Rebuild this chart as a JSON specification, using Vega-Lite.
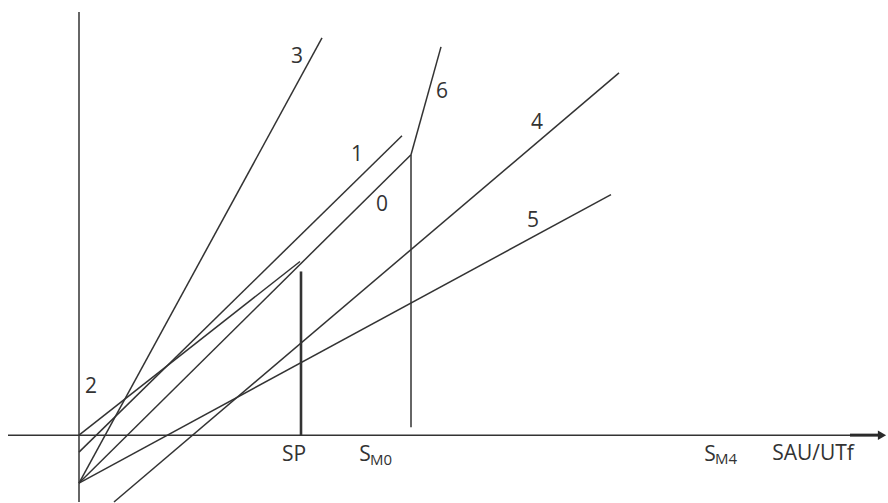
{
  "$schema": "https://vega.github.io/schema/vega-lite/v6.json",
  "width": 888,
  "height": 503,
  "autosize": {"type": "fit", "contains": "padding"},
  "padding": 0,
  "background": "white",
  "config": {"view": {"stroke": null}},
  "datasets": {
    "axes": [
      {"name": "x-axis", "x": -71, "y": 0, "x2": 775, "y2": 0},
      {"name": "y-axis", "x": 0, "y": 424, "x2": 0, "y2": -67}
    ],
    "arrow": [
      {"name": "arrow shaft", "x": 771, "y": 0, "x2": 802, "y2": 0}
    ],
    "arrowhead": [
      {"name": "arrow head", "x": 803, "y": 0}
    ],
    "curves": [
      {"name": "0", "x": 0, "y": -48, "x2": 332, "y2": 281},
      {"name": "6", "x": 332, "y": 281, "x2": 362, "y2": 389},
      {"name": "S_M0 drop", "x": 332, "y": 8, "x2": 332, "y2": 281},
      {"name": "1", "x": 0, "y": -17, "x2": 323, "y2": 300},
      {"name": "2", "x": 0, "y": 0, "x2": 221, "y2": 174},
      {"name": "3", "x": 0, "y": -48, "x2": 243, "y2": 398},
      {"name": "4", "x": 35, "y": -67, "x2": 540, "y2": 363},
      {"name": "5", "x": 0, "y": -48, "x2": 532, "y2": 241}
    ],
    "sp": [
      {"name": "SP drop", "x": 222, "y": 0, "x2": 222, "y2": 164}
    ],
    "labels": [
      {"text": "3", "x": 218, "y": 379},
      {"text": "6", "x": 363, "y": 344},
      {"text": "1", "x": 278, "y": 281},
      {"text": "4", "x": 458, "y": 313},
      {"text": "0", "x": 303, "y": 231},
      {"text": "5", "x": 454, "y": 215},
      {"text": "2", "x": 12, "y": 48},
      {"text": "SP", "x": 215, "y": -19.5},
      {"text": "S", "x": 286, "y": -19.5},
      {"text": "S", "x": 631, "y": -19.5},
      {"text": "SAU/UTf", "x": 734, "y": -19}
    ],
    "subs": [
      {"text": "M0", "x": 291, "y": -25},
      {"text": "M4", "x": 636, "y": -24}
    ]
  },
  "encoding": {
    "x": {"field": "x", "type": "quantitative", "scale": {"domain": [-79, 809], "nice": false, "zero": false}, "axis": null},
    "y": {"field": "y", "type": "quantitative", "scale": {"domain": [-67, 436], "nice": false, "zero": false}, "axis": null}
  },
  "layer": [
    {
      "data": {"name": "axes"},
      "mark": {"type": "rule", "color": "#333333", "strokeWidth": 1.5},
      "encoding": {"x2": {"field": "x2"}, "y2": {"field": "y2"}}
    },
    {
      "data": {"name": "arrow"},
      "mark": {"type": "rule", "color": "#2a2a2a", "strokeWidth": 3},
      "encoding": {"x2": {"field": "x2"}, "y2": {"field": "y2"}}
    },
    {
      "data": {"name": "arrowhead"},
      "mark": {"type": "point", "shape": "triangle-right", "filled": true, "color": "#2a2a2a", "size": 90, "opacity": 1}
    },
    {
      "data": {"name": "curves"},
      "mark": {"type": "rule", "color": "#333333", "strokeWidth": 1.5},
      "encoding": {"x2": {"field": "x2"}, "y2": {"field": "y2"}}
    },
    {
      "data": {"name": "sp"},
      "mark": {"type": "rule", "color": "#333333", "strokeWidth": 2.6},
      "encoding": {"x2": {"field": "x2"}, "y2": {"field": "y2"}}
    },
    {
      "data": {"name": "labels"},
      "mark": {"type": "text", "font": "Open Sans", "fontSize": 21, "color": "#333333", "align": "center", "baseline": "middle"},
      "encoding": {"text": {"field": "text"}}
    },
    {
      "data": {"name": "subs"},
      "mark": {"type": "text", "font": "Open Sans", "fontSize": 15, "color": "#333333", "align": "left", "baseline": "middle"},
      "encoding": {"text": {"field": "text"}}
    }
  ]
}
